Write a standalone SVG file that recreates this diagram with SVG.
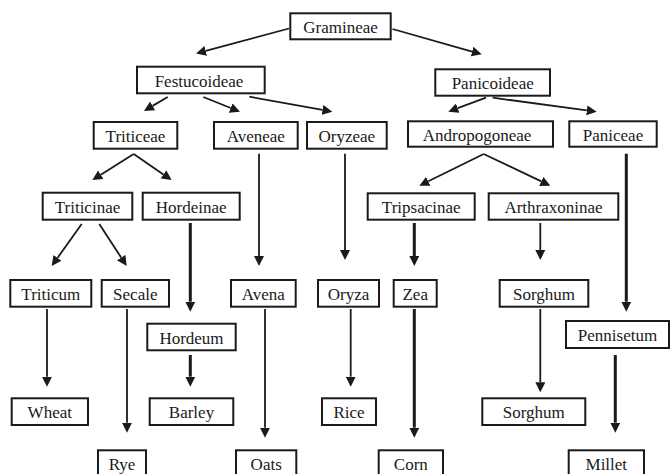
<svg xmlns="http://www.w3.org/2000/svg" width="672" height="474" viewBox="0 0 672 474">
  <style>
    .box rect { fill: #fff; stroke: #1a1a1a; stroke-width: 2; }
    .box text { fill: #1a1a1a; text-anchor: middle; }
    .link { stroke: #1a1a1a; stroke-width: 1.8; fill: none; marker-end: url(#head); }
    .link.bold { stroke-width: 3; }
  </style>
  <defs>
    <marker id="head" viewBox="0 0 10 10" refX="0" refY="5" markerWidth="10" markerHeight="10" markerUnits="userSpaceOnUse" orient="auto">
      <path d="M0,0 L10,5 L0,10 z" fill="#1a1a1a"/>
    </marker>
  </defs>
  <rect width="672" height="474" fill="#fff"/>

  <!-- connectors: each line stops where its arrowhead begins -->
  <g id="connectors">
    <line class="link" x1="289" y1="28.5" x2="205.7" y2="50.9"/>
    <line class="link" x1="392.5" y1="29" x2="472.1" y2="51.6"/>
    <line class="link" x1="167.7" y1="97" x2="152.6" y2="105.9"/>
    <line class="link" x1="203.3" y1="97" x2="230.7" y2="108"/>
    <line class="link" x1="249.3" y1="96.7" x2="322.5" y2="109.9"/>
    <line class="link" x1="486" y1="97.7" x2="457.7" y2="108.2"/>
    <line class="link" x1="492.7" y1="97.7" x2="586.8" y2="110.4"/>
    <line class="link" x1="133.7" y1="154" x2="100.8" y2="174.7"/>
    <line class="link" x1="133.7" y1="154" x2="163.4" y2="174.4"/>
    <line class="link" x1="483.7" y1="154" x2="428.3" y2="181.3"/>
    <line class="link" x1="483.7" y1="154" x2="541.3" y2="181.4"/>
    <line class="link" x1="81.7" y1="224" x2="57.5" y2="257.9"/>
    <line class="link" x1="99.3" y1="224" x2="121.2" y2="257.6"/>
    <line class="link bold" x1="190.3" y1="223" x2="190.3" y2="301.7"/>
    <line class="link" x1="259" y1="153.7" x2="259" y2="256"/>
    <line class="link" x1="345" y1="153.7" x2="345" y2="250"/>
    <line class="link bold" x1="414.3" y1="223" x2="414.3" y2="256"/>
    <line class="link" x1="540.3" y1="223" x2="540.3" y2="250"/>
    <line class="link bold" x1="626.3" y1="153.7" x2="626.3" y2="301.7"/>
    <line class="link" x1="47" y1="309" x2="47" y2="376.7"/>
    <line class="link" x1="127" y1="309" x2="127" y2="422.7"/>
    <line class="link bold" x1="190.3" y1="355" x2="190.3" y2="376.7"/>
    <line class="link" x1="265" y1="309" x2="265" y2="427.7"/>
    <line class="link" x1="350.7" y1="309" x2="350.7" y2="376.7"/>
    <line class="link bold" x1="414.3" y1="309" x2="414.3" y2="427.7"/>
    <line class="link" x1="540.3" y1="309" x2="540.3" y2="382.3"/>
    <line class="link bold" x1="615.3" y1="355" x2="615.3" y2="422.7"/>
  </g>

  <g id="nodes" font-family="'Liberation Serif', serif" font-size="17">
    <!-- level 0 -->
    <g id="gramineae" class="box"><rect x="290.3" y="13.3" width="100.4" height="26"/><text x="340.5" y="32.5">Gramineae</text></g>
    <!-- subfamilies -->
    <g id="festucoideae" class="box"><rect x="137" y="66.7" width="127.7" height="26.6"/><text x="199" y="86.7">Festucoideae</text></g>
    <g id="panicoideae" class="box"><rect x="435.3" y="69.3" width="114.7" height="26.4"/><text x="492.7" y="89">Panicoideae</text></g>
    <!-- tribes -->
    <g id="triticeae" class="box"><rect x="93.7" y="122" width="83.6" height="26.7"/><text x="135.5" y="142">Triticeae</text></g>
    <g id="aveneae" class="box"><rect x="214" y="122" width="83.7" height="26.7"/><text x="255.8" y="142">Aveneae</text></g>
    <g id="oryzeae" class="box"><rect x="307" y="122" width="79.7" height="26.7"/><text x="346.8" y="142">Oryzeae</text></g>
    <g id="andropogoneae" class="box"><rect x="408" y="121.3" width="145" height="25.4"/><text x="477" y="140.8">Andropogoneae</text></g>
    <g id="paniceae" class="box"><rect x="569.3" y="121.3" width="87.4" height="25.4"/><text x="613" y="140.8">Paniceae</text></g>
    <!-- subtribes -->
    <g id="triticinae" class="box"><rect x="42.7" y="192.7" width="89.6" height="27"/><text x="87.5" y="212.5">Triticinae</text></g>
    <g id="hordeinae" class="box"><rect x="142.7" y="192.7" width="97" height="27"/><text x="191.2" y="212.5">Hordeinae</text></g>
    <g id="tripsacinae" class="box"><rect x="367.7" y="193.3" width="107" height="26.4"/><text x="421.2" y="212.8">Tripsacinae</text></g>
    <g id="arthraxoninae" class="box"><rect x="488.7" y="193.3" width="129.6" height="26.4"/><text x="553.5" y="212.8">Arthraxoninae</text></g>
    <!-- genera -->
    <g id="triticum" class="box"><rect x="10.3" y="280" width="81" height="26.7"/><text x="50.8" y="299.8">Triticum</text></g>
    <g id="secale" class="box"><rect x="101.7" y="280" width="67.3" height="26.7"/><text x="135.3" y="299.8">Secale</text></g>
    <g id="avena" class="box"><rect x="231" y="280" width="64.7" height="26.7"/><text x="263.3" y="299.8">Avena</text></g>
    <g id="oryza" class="box"><rect x="318" y="280" width="61" height="26.7"/><text x="348.5" y="299.8">Oryza</text></g>
    <g id="zea" class="box"><rect x="393.7" y="280" width="43" height="26.7"/><text x="415.2" y="299.8">Zea</text></g>
    <g id="sorghum-genus" class="box"><rect x="499.7" y="280" width="88.6" height="26.7"/><text x="544" y="299.8">Sorghum</text></g>
    <g id="hordeum" class="box"><rect x="147.3" y="323.7" width="88.4" height="26.6"/><text x="191.5" y="343.5">Hordeum</text></g>
    <g id="pennisetum" class="box"><rect x="566" y="321" width="103" height="27"/><text x="617.5" y="341">Pennisetum</text></g>
    <!-- crops -->
    <g id="wheat" class="box"><rect x="11.7" y="398.3" width="76.3" height="26.7"/><text x="49.8" y="418">Wheat</text></g>
    <g id="barley" class="box"><rect x="149.7" y="398.3" width="83.6" height="26.7"/><text x="191.5" y="418">Barley</text></g>
    <g id="rice" class="box"><rect x="322" y="398.3" width="54" height="26.7"/><text x="349" y="418">Rice</text></g>
    <g id="sorghum-crop" class="box"><rect x="482.3" y="398.3" width="103" height="26.7"/><text x="533.8" y="418">Sorghum</text></g>
    <g id="rye" class="box"><rect x="98" y="450.3" width="48" height="30"/><text x="122" y="470">Rye</text></g>
    <g id="oats" class="box"><rect x="236" y="450.3" width="60.3" height="30"/><text x="266.2" y="470">Oats</text></g>
    <g id="corn" class="box"><rect x="378.7" y="450.3" width="64.3" height="30"/><text x="410.8" y="470">Corn</text></g>
    <g id="millet" class="box"><rect x="568.7" y="450.3" width="75.3" height="30"/><text x="606.3" y="470">Millet</text></g>
  </g>
</svg>
